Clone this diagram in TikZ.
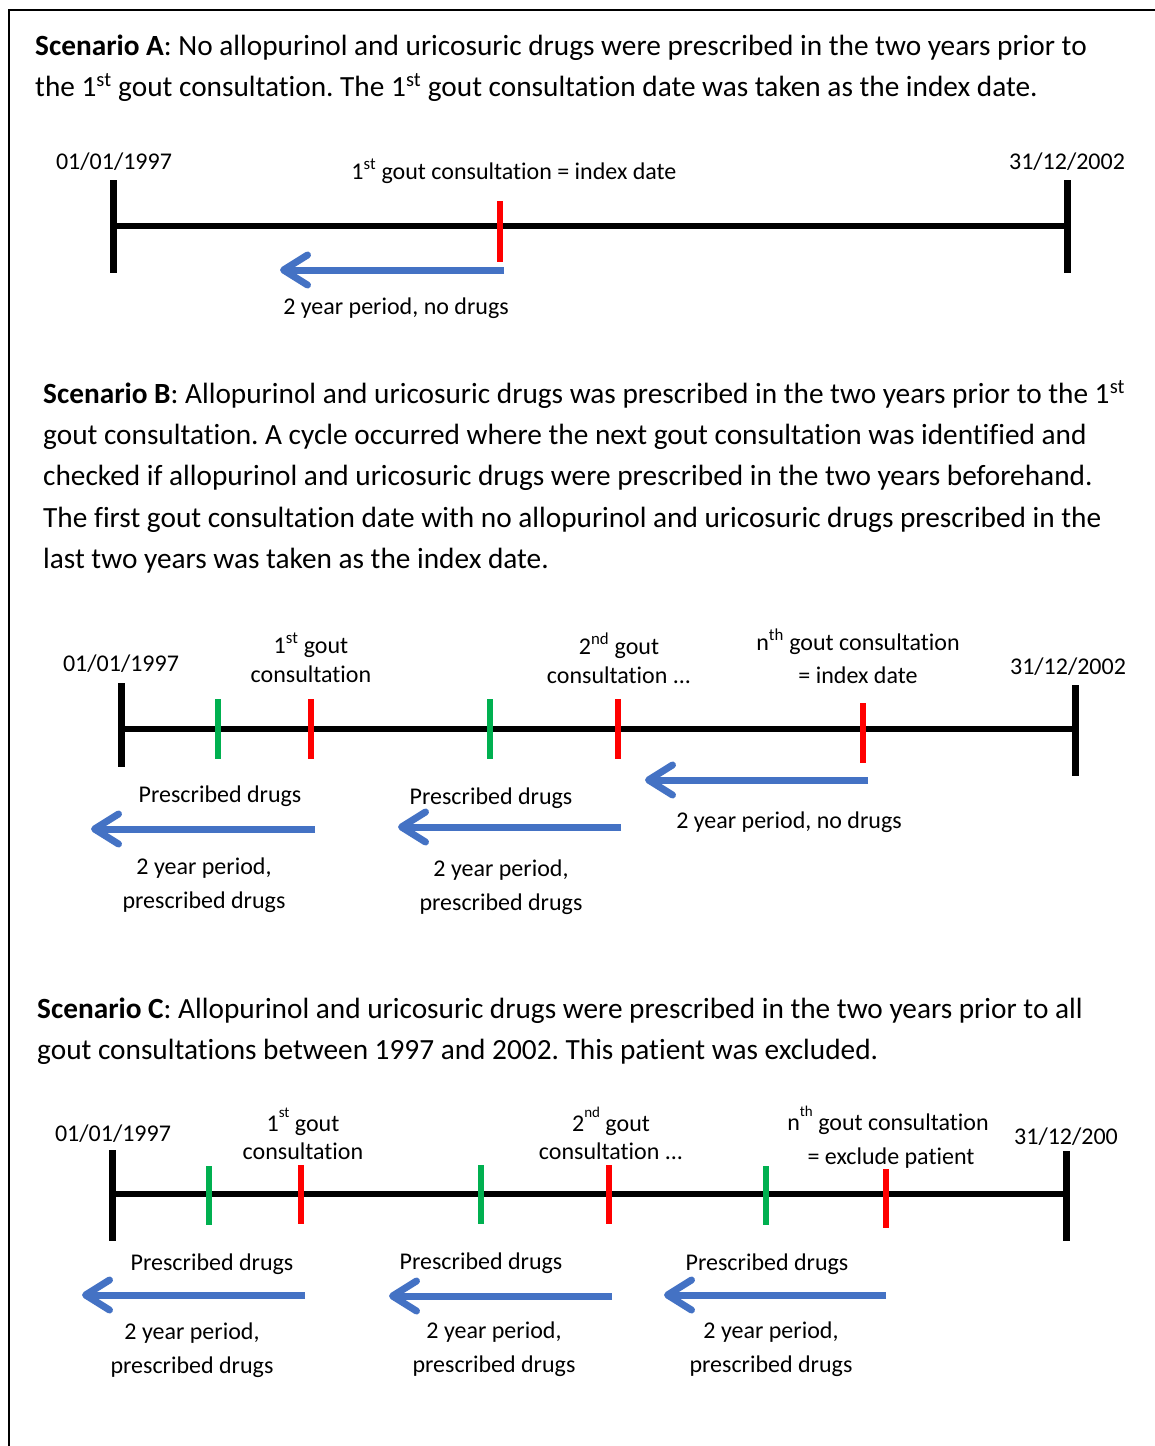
\documentclass[tikz,border=0pt]{standalone}
\usepackage{fontspec}
\setmainfont{Carlito}[RawFeature={-liga}]
\frenchspacing
\usetikzlibrary{arrows.meta}
\definecolor{arrowblue}{HTML}{4472C4}
\definecolor{tickred}{HTML}{FF0000}
\definecolor{tickgreen}{HTML}{00B050}
\newcommand{\hisup}[1]{\raisebox{0.55em}{\fontsize{15}{15}\selectfont #1}}
\tikzset{
  body/.style={anchor=base west, inner sep=0pt, font=\fontsize{29.3}{41}\selectfont},
  lbl/.style={anchor=base, inner sep=0pt, font=\fontsize{24}{34}\selectfont},
  axis/.style={line width=6pt, black},
  endtick/.style={line width=7pt, black},
  redtick/.style={line width=6.5pt, tickred},
  greentick/.style={line width=6.5pt, tickgreen},
  period/.style={line width=7pt, arrowblue, -{Straight Barb[length=24pt,width=30pt,line cap=round,line join=round]}},
}
\begin{document}
\begin{tikzpicture}[x=1pt,y=-1pt]
\useasboundingbox (0,0) rectangle (1155,1446);
\draw[line width=2pt] (9,1446) -- (9,10) -- (1155,10);

% ---------------- Scenario A ----------------
\node[body] (a1) at (35,55) {\textbf{Scenario A}: No allopurinol and uricosuric drugs were prescribed in the two years prior to};
\node[body] (a2) at (35,96) {the 1\textsuperscript{st} gout consultation. The 1\textsuperscript{st} gout consultation date was taken as the index date.};

\coordinate (aL) at (113,226); \coordinate (aR) at (1067,226);
\draw[axis] (aL) -- (aR);
\draw[endtick] (113,180) -- (113,273);
\draw[endtick] (1067,180) -- (1067,273);
\draw[redtick] (500,201) -- (500,262);
\coordinate (aS) at (504,270); \coordinate (aE) at (280,270);
\draw[period] (aS) -- (aE);

\node[lbl] (aD1) at (114,169) {01/01/1997};
\node[lbl] (aD2) at (1067,169) {31/12/2002};
\node[lbl] (aC1) at (514,179) {1\textsuperscript{st} gout consultation = index date};
\node[lbl] (aP1) at (396,314) {2 year period, no drugs};

% ---------------- Scenario B ----------------
\node[body] (b1) at (43,403) {\textbf{Scenario B}: Allopurinol and uricosuric drugs was prescribed in the two years prior to the 1\textsuperscript{st}};
\node[body] (b2) at (43,444) {gout consultation. A cycle occurred where the next gout consultation was identified and};
\node[body] (b3) at (43,485) {checked if allopurinol and uricosuric drugs were prescribed in the two years beforehand.};
\node[body] (b4) at (43,527) {The first gout consultation date with no allopurinol and uricosuric drugs prescribed in the};
\node[body] (b5) at (43,568) {last two years was taken as the index date.};

\coordinate (bL) at (121,729); \coordinate (bR) at (1075,729);
\draw[axis] (bL) -- (bR);
\draw[endtick] (121,683) -- (121,767);
\draw[endtick] (1075,685) -- (1075,776);
\draw[greentick] (218,699) -- (218,759);
\draw[greentick] (490,699) -- (490,759);
\draw[redtick] (311,699) -- (311,759);
\draw[redtick] (618,699) -- (618,759);
\draw[redtick] (863,703) -- (863,763);

\node[lbl] (bD1) at (121,671) {01/01/1997};
\node[lbl] (bD2) at (1068,674) {31/12/2002};
\node[lbl] (bC1a) at (311,653) {1\textsuperscript{st} gout};
\node[lbl] (bC1b) at (311,682) {consultation};
\node[lbl] (bC2a) at (619,654) {2\textsuperscript{nd} gout};
\node[lbl] (bC2b) at (619,683) {consultation ...};
\node[lbl] (bC3a) at (858,650) {n\textsuperscript{th} gout consultation};
\node[lbl] (bC3b) at (858,683) {= index date};

\coordinate (b1S) at (315,829); \coordinate (b1E) at (91,829);
\coordinate (b2S) at (621,827); \coordinate (b2E) at (398,827);
\coordinate (b3S) at (868,780); \coordinate (b3E) at (645,780);
\draw[period] (b1S) -- (b1E);
\draw[period] (b2S) -- (b2E);
\draw[period] (b3S) -- (b3E);

\node[lbl] (bR1) at (220,802) {Prescribed drugs};
\node[lbl] (bP1a) at (204,874) {2 year period,};
\node[lbl] (bP1b) at (204,908) {prescribed drugs};
\node[lbl] (bR2) at (491,804) {Prescribed drugs};
\node[lbl] (bP2a) at (501,876) {2 year period,};
\node[lbl] (bP2b) at (501,910) {prescribed drugs};
\node[lbl] (bP3) at (789,828) {2 year period, no drugs};

% ---------------- Scenario C ----------------
\node[body] (c1) at (37,1018) {\textbf{Scenario C}: Allopurinol and uricosuric drugs were prescribed in the two years prior to all};
\node[body] (c2) at (37,1059) {gout consultations between 1997 and 2002. This patient was excluded.};

\coordinate (cL) at (112,1194); \coordinate (cR) at (1066,1194);
\draw[axis] (cL) -- (cR);
\draw[endtick] (112,1150) -- (112,1241);
\draw[endtick] (1066,1151) -- (1066,1241);
\draw[greentick] (209,1166) -- (209,1225);
\draw[greentick] (481,1165) -- (481,1224);
\draw[greentick] (766,1166) -- (766,1225);
\draw[redtick] (301,1165) -- (301,1224);
\draw[redtick] (609,1165) -- (609,1224);
\draw[redtick] (886,1169) -- (886,1228);

\node[lbl] (cD1) at (113,1141) {01/01/1997};
\node[lbl] (cD2) at (1066,1144) {31/12/200};
\node[lbl] (cC1a) at (303,1131) {1\hisup{st} gout};
\node[lbl] (cC1b) at (303,1159) {consultation};
\node[lbl] (cC2a) at (611,1131) {2\hisup{nd} gout};
\node[lbl] (cC2b) at (611,1159) {consultation ...};
\node[lbl] (cC3a) at (888,1130) {n\hisup{th} gout consultation};
\node[lbl] (cC3b) at (891,1164) {= exclude patient};

\coordinate (c1S) at (305,1295); \coordinate (c1E) at (82,1295);
\coordinate (c2S) at (612,1296); \coordinate (c2E) at (389,1296);
\coordinate (c3S) at (886,1295); \coordinate (c3E) at (664,1295);
\draw[period] (c1S) -- (c1E);
\draw[period] (c2S) -- (c2E);
\draw[period] (c3S) -- (c3E);

\node[lbl] (cR1) at (212,1270) {Prescribed drugs};
\node[lbl] (cP1a) at (192,1339) {2 year period,};
\node[lbl] (cP1b) at (192,1373) {prescribed drugs};
\node[lbl] (cR2) at (481,1269) {Prescribed drugs};
\node[lbl] (cP2a) at (494,1338) {2 year period,};
\node[lbl] (cP2b) at (494,1372) {prescribed drugs};
\node[lbl] (cR3) at (767,1270) {Prescribed drugs};
\node[lbl] (cP3a) at (771,1338) {2 year period,};
\node[lbl] (cP3b) at (771,1372) {prescribed drugs};
\end{tikzpicture}
\end{document}
